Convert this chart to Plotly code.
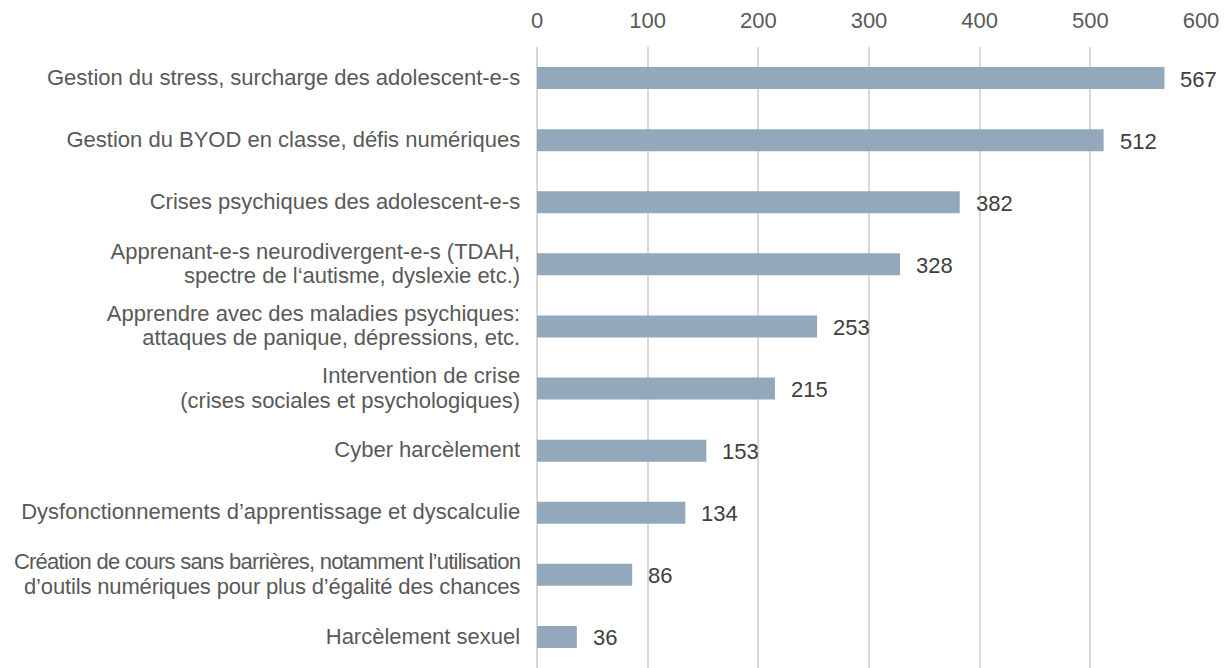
import plotly.graph_objects as go

categories = [
    "Gestion du stress, surcharge des adolescent-e-s",
    "Gestion du BYOD en classe, défis numériques",
    "Crises psychiques des adolescent-e-s",
    "Apprenant-e-s neurodivergent-e-s (TDAH,<br>spectre de l‘autisme, dyslexie etc.)",
    "Apprendre avec des maladies psychiques:<br>attaques de panique, dépressions, etc.",
    "Intervention de crise<br>(crises sociales et psychologiques)",
    "Cyber harcèlement",
    "Dysfonctionnements d’apprentissage et dyscalculie",
    "Création de cours sans barrières, notamment l’utilisation<br>d’outils numériques pour plus d’égalité des chances",
    "Harcèlement sexuel",
]
values = [567, 512, 382, 328, 253, 215, 153, 134, 86, 36]
x_ticks = [0, 100, 200, 300, 400, 500, 600]

FONT = "Liberation Sans, Arial, Helvetica, sans-serif"


def styled(label):
    # larger glyphs than the base tick font, so the line spacing stays tight
    lines = label.split("<br>")
    out = []
    for ln in lines:
        ls = "-0.75px" if ln.startswith("Création") else ("-0.15px" if ln.startswith("d’outils") else "0px")
        out.append(f'<span style="font-size:22px;letter-spacing:{ls}">{ln}</span>')
    return "<br>".join(out)


tick_text = [styled(c) for c in categories]

fig = go.Figure()
fig.add_trace(go.Bar(
    x=values, y=categories, orientation="h",
    marker=dict(color="#93a9bb", line=dict(width=0)),
    hoverinfo="x+y",
))

for c, v in zip(categories, values):
    fig.add_annotation(
        x=v, y=c, text=str(v), showarrow=False,
        xanchor="left", xshift=14, yshift=-1,
        font=dict(family=FONT, size=22, color="#404040"),
    )

# page body has an 8px margin: figure is sized to fit inside the window
fig.update_layout(
    width=1220, height=660,
    margin=dict(l=529, r=27, t=39, b=0),
    paper_bgcolor="white", plot_bgcolor="white",
    bargap=0.645,
    showlegend=False,
    font=dict(family=FONT, size=22, color="#595959"),
)
fig.update_xaxes(
    side="top", range=[0, 600], tickvals=x_ticks,
    showgrid=True, gridcolor="#d9d9d9", gridwidth=2,
    zeroline=True, zerolinecolor="#d9d9d9", zerolinewidth=2,
    showline=False, ticks="outside", ticklen=9, tickcolor="rgba(0,0,0,0)",
    tickfont=dict(family=FONT, size=22, color="#595959"),
    automargin=False,
)
fig.update_yaxes(
    categoryorder="array", categoryarray=categories, autorange="reversed",
    tickmode="array", tickvals=categories, ticktext=tick_text,
    showgrid=False, zeroline=False, showline=False,
    ticks="outside", ticklen=12, tickcolor="rgba(0,0,0,0)",
    tickfont=dict(family=FONT, size=19, color="#595959"),
    automargin=False,
)

fig.write_html("out.html")
